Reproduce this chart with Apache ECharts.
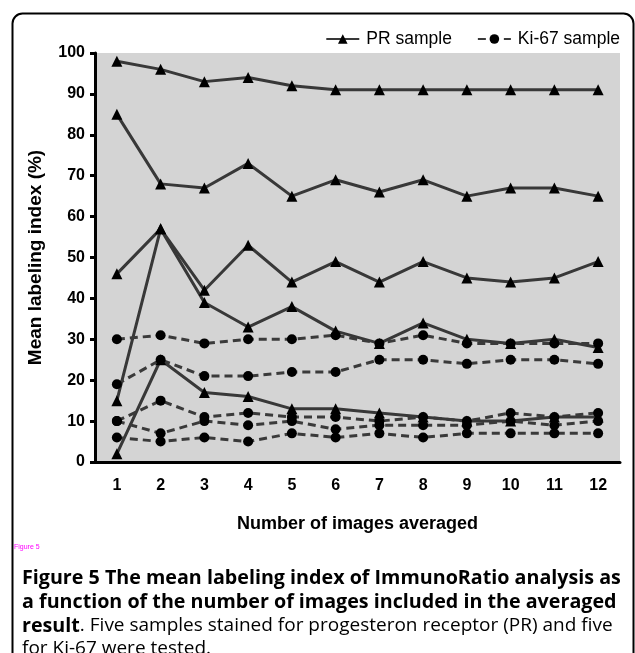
<!DOCTYPE html>
<html>
<head>
<meta charset="utf-8">
<script src="https://cdn.jsdelivr.net/npm/echarts@6/dist/echarts.min.js"></script>
<style>
html,body{margin:0;padding:0;background:#fff;}
#c{width:635px;height:653px;}
</style>
</head>
<body>
<div id="c"></div>
<script>
const categories = ['1','2','3','4','5','6','7','8','9','10','11','12'];
const yTicks = [0,10,20,30,40,50,60,70,80,90,100];

// PR samples (solid line, triangles)
const pr1 = [98, 96, 93, 94, 92, 91, 91, 91, 91, 91, 91, 91];
const pr2 = [85, 68, 67, 73, 65, 69, 66, 69, 65, 67, 67, 65];
const pr3 = [46, 57, 42, 53, 44, 49, 44, 49, 45, 44, 45, 49];
const pr4 = [15, 57, 39, 33, 38, 32, 29, 34, 30, 29, 30, 28];
const pr5 = [2, 25, 17, 16, 13, 13, 12, 11, 10, 10, 11, 11];

// Ki-67 samples (dashed line, circles)
const ki1 = [30, 31, 29, 30, 30, 31, 29, 31, 29, 29, 29, 29];
const ki2 = [19, 25, 21, 21, 22, 22, 25, 25, 24, 25, 25, 24];
const ki3 = [10, 15, 11, 12, 11, 11, 10, 11, 10, 12, 11, 12];
const ki4 = [10, 7, 10, 9, 10, 8, 9, 9, 9, 10, 9, 10];
const ki5 = [6, 5, 6, 5, 7, 6, 7, 6, 7, 7, 7, 7];

const prSeries = [pr1, pr2, pr3, pr4, pr5];
const kiSeries = [ki1, ki2, ki3, ki4, ki5];

const chart = echarts.init(document.getElementById('c'), null, {renderer:'canvas'});

const series = [];
prSeries.forEach(d => series.push({
  name: 'PR sample', type: 'line', data: d,
  symbol: 'triangle', symbolSize: 11,
  itemStyle: {color: '#000'},
  lineStyle: {color: '#383838', width: 3},
  z: 3
}));
kiSeries.forEach(d => series.push({
  name: 'Ki-67 sample', type: 'line', data: d,
  symbol: 'circle', symbolSize: 10,
  itemStyle: {color: '#000'},
  lineStyle: {color: '#3a3a3a', width: 3, type: [8, 5]},
  z: 4
}));

const capFont = '"Open Sans", sans-serif';
const capBold = 19.7;
const capNorm = 19;
const axFont = 'Arial, "Liberation Sans"';

chart.setOption({
  animation: false,
  backgroundColor: '#fff',
  legend: {
    data: ['PR sample', 'Ki-67 sample'],
    right: 10, top: 25,
    itemWidth: 33, itemHeight: 12, itemGap: 25,
    textStyle: {fontFamily: axFont, fontSize: 17.5, color: '#000', padding: [0, 0, 0, 2]}
  },
  grid: {left: 95, right: 15, top: 53, bottom: 191, show: true, backgroundColor: '#d4d4d4', borderWidth: 0},
  xAxis: {
    type: 'category', data: categories, boundaryGap: true,
    name: 'Number of images averaged', nameLocation: 'middle', nameGap: 53,
    nameTextStyle: {fontFamily: axFont, fontWeight: 'bold', fontSize: 18, color: '#000'},
    axisLine: {lineStyle: {color: '#000', width: 3}},
    axisTick: {alignWithLabel: true, length: 7, lineStyle: {width: 3, color: '#000'}},
    axisLabel: {fontFamily: axFont, fontWeight: 'bold', fontSize: 16, color: '#000', margin: 16}
  },
  yAxis: {
    type: 'value', min: 0, max: 100, interval: 10,
    name: 'Mean labeling index (%)', nameLocation: 'middle', nameGap: 50,
    nameTextStyle: {fontFamily: axFont, fontWeight: 'bold', fontSize: 19, color: '#000'},
    axisLine: {show: true, lineStyle: {color: '#000', width: 3}},
    axisTick: {show: true, length: 5, lineStyle: {width: 3, color: '#000'}},
    splitLine: {show: false},
    axisLabel: {fontFamily: axFont, fontWeight: 'bold', fontSize: 16, color: '#000', margin: 10,
      formatter: v => yTicks.includes(v) ? String(v) : ''}
  },
  series: series,
  graphic: [
    {type: 'rect', shape: {x: 12.5, y: 13.5, width: 621, height: 700, r: 10},
     style: {fill: 'none', stroke: '#000', lineWidth: 2}, silent: true, z: 0},
    {type: 'text', left: 14, top: 544,
     style: {text: 'Figure 5', fill: '#ff00ff', font: '7px Arial'}},
    {type: 'text', left: 22, top: 568,
     style: {text: 'Figure 5 The mean labeling index of ImmunoRatio analysis as', fill: '#000',
       font: 'bold ' + capBold + 'px ' + capFont}},
    {type: 'text', left: 22, top: 592,
     style: {text: 'a function of the number of images included in the averaged', fill: '#000',
       font: 'bold ' + capBold + 'px ' + capFont}},
    {type: 'text', left: 22, top: 616,
     style: {text: '{b|result}{n|. Five samples stained for progesteron receptor (PR) and five}',
       rich: {
         b: {fontFamily: capFont, fontWeight: 'bold', fontSize: capBold, fill: '#000', color: '#000'},
         n: {fontFamily: capFont, fontWeight: 'normal', fontSize: capNorm, fill: '#000', color: '#000'}
       }}},
    {type: 'text', left: 22, top: 639,
     style: {text: 'for Ki-67 were tested.', fill: '#000',
       font: capNorm + 'px ' + capFont}}
  ]
});
</script>
</body>
</html>
